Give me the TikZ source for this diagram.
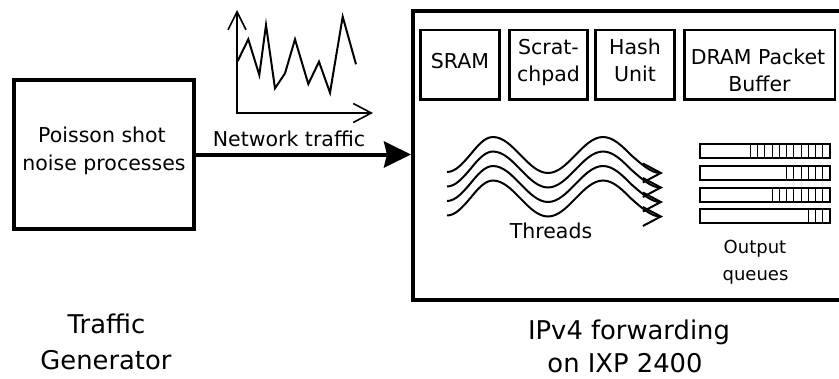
\documentclass[tikz,border=0pt]{standalone}
\usepackage{fontspec}
\setmainfont{DejaVu Sans}
\usetikzlibrary{arrows.meta}
\begin{document}
\begin{tikzpicture}[x=1pt,y=-1pt,
  txt/.style={inner sep=0pt, anchor=base, font=\fontsize{20.5}{24}\selectfont},
  smalltxt/.style={inner sep=0pt, anchor=base, font=\fontsize{18}{22}\selectfont},
  bigtxt/.style={inner sep=0pt, anchor=base, font=\fontsize{25.8}{30}\selectfont},
  thickbox/.style={draw, line width=4pt, inner sep=0pt},
  membox/.style={draw, line width=2.7pt, inner sep=0pt, minimum height=69.3pt},
  axisline/.style={line width=1.6pt},
  traceline/.style={line width=2pt, line join=miter},
  threadline/.style={line width=2pt, -{Straight Barb[length=18pt,width=19pt]}},
  qbar/.style={line width=1.2pt},
  qcell/.style={line width=1pt}]
\useasboundingbox (0,0) rectangle (839,378);
\clip (0,0) rectangle (839,378);

% boxes
\node[thickbox, minimum width=180pt, minimum height=149pt] (gen) at (104,154.5) {};
\node[thickbox, minimum width=430pt, minimum height=289.5pt] (ixp) at (628,155.25) {};
\node[membox, minimum width=78.6pt] (sram) at (460,64.65) {};
\node[membox, minimum width=78.4pt] (scratch) at (548.5,64.65) {};
\node[membox, minimum width=78.6pt] (hash) at (635,64.65) {};
\node[membox, minimum width=150.7pt] (dram) at (759.7,64.65) {};

% box texts
\node[txt] (sramt) at (460,68.3) {SRAM};
\node[txt] (scr1) at (548.5,54) {Scrat-};
\node[txt] (scr2) at (548.5,81.7) {chpad};
\node[txt] (hash1) at (635,54) {Hash};
\node[txt] (hash2) at (635,81.7) {Unit};
\node[txt] (dram1) at (758,64.3) {DRAM Packet};
\node[txt] (dram2) at (759.5,91.7) {Buffer};
\node[txt] (pois1) at (102,142.7) {Poisson shot};
\node[txt] (pois2) at (104,170) {noise processes};

% main arrow
\draw[line width=4pt, -{Stealth[length=27pt,width=26pt,inset=3pt]}] (gen.east) -- (gen.east -| ixp.west);
\node[txt] (nettr) at (289,146) {Network traffic};

% traffic graph
\coordinate (gy) at (237,10);
\coordinate (go) at (237,113);
\coordinate (gx) at (373,113);
\draw[axisline, {Straight Barb[length=18pt,width=18pt]}-{Straight Barb[length=18pt,width=19pt]}] (gy) -- (go) -- (gx);
\draw[traceline] (237.7,61) -- (248.3,39.3) -- (259.3,75) -- (266,25) -- (275,88.3) -- (285,73.3) -- (295,39.3) -- (308.3,84) -- (319,61.7) -- (330,92.7) -- (342.7,16.7) -- (356,64.3);

% threads
\foreach \c in {155,169.5,184,198.5} {
  \draw[threadline] (447,\c+17) cos (470,\c) sin (493,\c-18) cos (520.5,\c) sin (548,\c+18)
    cos (575.5,\c) sin (603,\c-18) cos (631,\c) sin (663,\c+18);
}
\node[txt] (thr) at (551,238) {Threads};

% output queues
\foreach \r/\n in {144/11, 166/6, 188/8, 209/3} {
  \draw[qbar] (700,\r) rectangle (830,\r+14);
  \foreach \k in {1,...,\n} \draw[qcell] (830-7.25*\k,\r) -- ++(0,14);
}
\node[smalltxt] (outq1) at (755,253) {Output};
\node[smalltxt] (outq2) at (755.5,280) {queues};

% bottom labels
\node[bigtxt] (tg1) at (106.5,333.3) {Traffic};
\node[bigtxt] (tg2) at (106,369) {Generator};
\node[bigtxt] (ip1) at (629,339) {IPv4 forwarding};
\node[bigtxt] (ip2) at (625,372.5) {on IXP 2400};
\end{tikzpicture}
\end{document}
